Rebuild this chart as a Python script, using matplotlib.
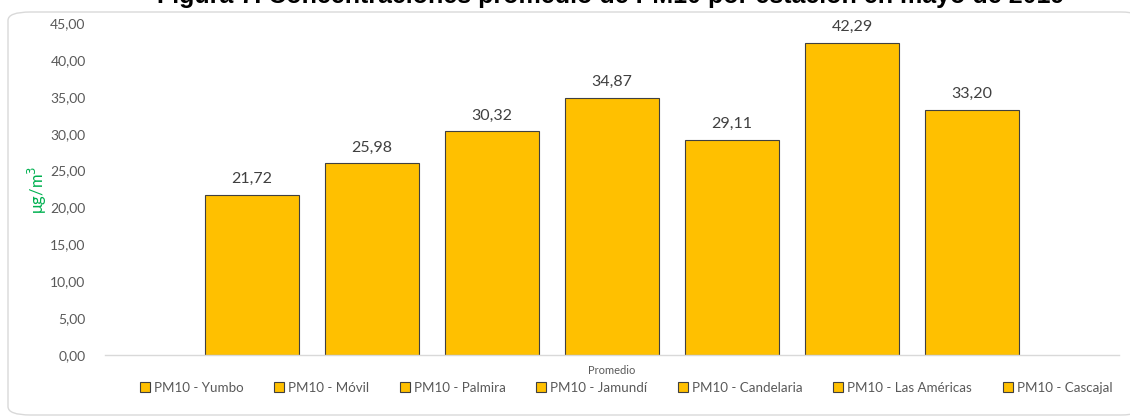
import numpy as np
import matplotlib
matplotlib.use("Agg")
import matplotlib.pyplot as plt
from matplotlib.patches import FancyBboxPatch

stations = ["PM10 - Yumbo", "PM10 - Móvil", "PM10 - Palmira", "PM10 - Jamundí",
            "PM10 - Candelaria", "PM10 - Las Américas", "PM10 - Cascajal"]
values = [21.72, 25.98, 30.32, 34.87, 29.11, 42.29, 33.20]
category = "Promedio"
y_ticks = [0, 5, 10, 15, 20, 25, 30, 35, 40, 45]
title = "Figura 7. Concentraciones promedio de PM10 por estación en mayo de 2019"

BAR = "#FFC000"
EDGE = "#404040"
GREY = "#595959"

plt.rcParams["font.family"] = ["Lato", "DejaVu Sans"]

fig = plt.figure(figsize=(11.3, 4.19), dpi=100)
W, H = 1130, 419

# rounded chart frame (right side runs past the picture edge)
frame = FancyBboxPatch((8 / W, 4 / H), 1135 / W, 403 / H,
                       boxstyle="round,pad=0,rounding_size=0.02",
                       transform=fig.transFigure, facecolor="white",
                       edgecolor="#D9D9D9", linewidth=1.0, zorder=-5)
fig.patches.append(frame)

# title, mostly cut off by the top edge
fig.text(0.54, 1 - 3 / H, title, ha="center", va="baseline",
         fontsize=18, fontweight="bold", color="black",
         family=["Liberation Sans", "DejaVu Sans"])

ax = fig.add_axes([105 / W, 1 - 355 / H, 1014 / W, 332 / H])
ax.set_facecolor("none")
x = np.arange(len(values))
bars = ax.bar(x, values, width=0.79, color=BAR, edgecolor=EDGE, linewidth=0.8)

for xi, v in zip(x, values):
    ax.text(xi, v + 1.2, f"{v:.2f}".replace(".", ","), ha="center", va="bottom",
            fontsize=11.5, color="#404040")

ax.set_xlim(3 - 4.225, 3 + 4.225)
ax.set_ylim(0, 45)
ax.set_yticks(y_ticks)
ax.set_yticklabels([f"{t:.2f}".replace(".", ",") for t in y_ticks],
                   fontsize=10, color=GREY)
ax.set_xticks([])
ax.tick_params(axis="y", length=0, pad=14)
for s in ["top", "right", "left"]:
    ax.spines[s].set_visible(False)
ax.spines["bottom"].set_color("#D9D9D9")
ax.spines["bottom"].set_linewidth(1.0)

ax.text(3, -1.4, category, ha="center", va="top", fontsize=8, color=GREY)

fig.text(37 / W, 1 - 190 / H, "μg/m$^3$", rotation=90, ha="center", va="center",
         fontsize=12, color="#00B050")

fig.legend(list(bars), stations, loc="center", bbox_to_anchor=(626 / W, 1 - 388 / H),
           ncol=7, frameon=False, fontsize=9.6, labelcolor=GREY,
           handlelength=0.75, handleheight=0.75, handletextpad=0.3,
           columnspacing=2.3)

fig.savefig("out.png", dpi=100)
